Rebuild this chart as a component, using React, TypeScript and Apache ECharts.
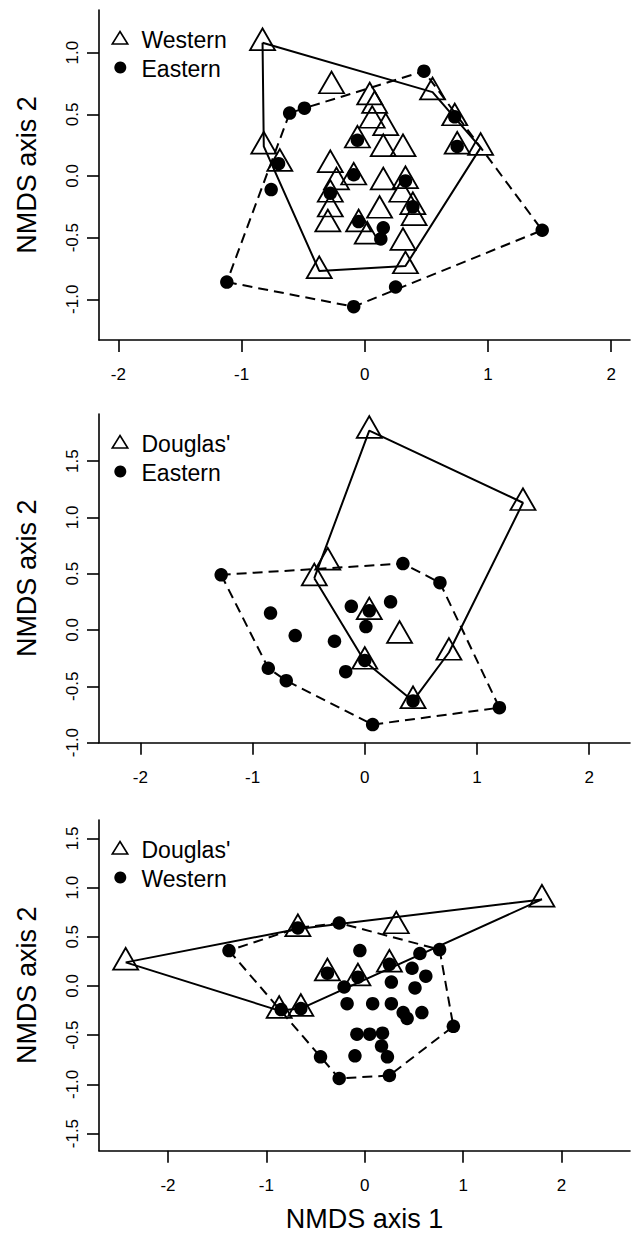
import React, { useEffect, useRef } from "react";
import * as echarts from "echarts";

const FONT = '"Liberation Sans", Arial, Helvetica, sans-serif';

// ---------- data (NMDS scores) ----------
// Panel 1: Western (triangles) vs Eastern (dots)
const p1Western: number[][] = [
  [-0.83, 1.08], [-0.27, 0.73], [0.55, 0.68], [0.04, 0.64], [0.08, 0.57], [0.06, 0.45],
  [0.17, 0.39], [-0.06, 0.29], [0.15, 0.22], [0.31, 0.22], [0.73, 0.47], [0.75, 0.24],
  [0.94, 0.23], [-0.82, 0.24], [-0.69, 0.1], [-0.28, 0.09], [-0.23, -0.05], [-0.09, -0.01],
  [-0.28, -0.15], [-0.28, -0.27], [-0.3, -0.39], [0.15, -0.05], [0.33, -0.04], [0.3, -0.15],
  [0.39, -0.25], [0.4, -0.34], [0.12, -0.28], [-0.05, -0.39], [0.02, -0.49], [0.31, -0.54],
  [0.33, -0.73], [-0.37, -0.77],
];
const p1Eastern: number[][] = [
  [-1.12, -0.86], [-0.61, 0.51], [-0.49, 0.55], [0.48, 0.85], [0.73, 0.48], [0.75, 0.24],
  [-0.06, 0.29], [-0.7, 0.1], [-0.76, -0.11], [-0.09, 0.01], [0.33, -0.04], [-0.28, -0.14],
  [0.39, -0.25], [-0.05, -0.37], [0.15, -0.42], [0.13, -0.51], [1.44, -0.44], [0.25, -0.9],
  [-0.09, -1.06],
];
// Panel 2: Douglas' (triangles) vs Eastern (dots)
const p2Douglas: number[][] = [
  [0.04, 1.77], [1.41, 1.13], [-0.33, 0.6], [-0.45, 0.46], [0.04, 0.16], [0.31, -0.05],
  [0.75, -0.2], [0.0, -0.28], [0.43, -0.63],
];
const p2Eastern: number[][] = [
  [-1.28, 0.49], [0.34, 0.59], [0.67, 0.42], [1.2, -0.69], [0.07, -0.84], [-0.7, -0.45],
  [-0.86, -0.34], [-0.84, 0.15], [-0.62, -0.05], [-0.27, -0.1], [-0.12, 0.21], [0.04, 0.17],
  [0.01, 0.03], [0.23, 0.25], [0.0, -0.27], [-0.17, -0.37], [0.43, -0.63],
];
// Panel 3: Douglas' (triangles) vs Western (dots)
const p3Douglas: number[][] = [
  [-2.43, 0.24], [-0.68, 0.58], [0.32, 0.61], [1.8, 0.88], [-0.38, 0.13], [-0.07, 0.08],
  [0.25, 0.22], [-0.87, -0.25], [-0.65, -0.23],
];
const p3Western: number[][] = [
  [-1.38, 0.36], [-0.68, 0.59], [-0.26, 0.64], [-0.05, 0.36], [-0.38, 0.13], [-0.07, 0.09],
  [0.25, 0.22], [-0.21, -0.01], [-0.85, -0.24], [-0.65, -0.23], [-0.18, -0.18], [0.08, -0.18],
  [0.27, -0.18], [0.27, 0.04], [-0.08, -0.49], [0.05, -0.49], [0.18, -0.48], [0.17, -0.61],
  [0.23, -0.72], [-0.1, -0.71], [-0.45, -0.72], [-0.26, -0.94], [0.25, -0.91], [0.56, 0.33],
  [0.76, 0.37], [0.48, 0.18], [0.62, 0.1], [0.51, -0.02], [0.39, -0.27], [0.43, -0.33],
  [0.58, -0.27], [0.9, -0.41],
];

const xTicks = [-2, -1, 0, 1, 2];
const p1YTicks = [-1, -0.5, 0, 0.5, 1];
const p2YTicks = [-1, -0.5, 0, 0.5, 1, 1.5];
const p3YTicks = [-1.5, -1, -0.5, 0, 0.5, 1, 1.5];

const p1Labels = ["Western", "Eastern"];
const p2Labels = ["Douglas'", "Eastern"];
const p3Labels = ["Douglas'", "Western"];

const yTitle = "NMDS axis 2";
const xTitle = "NMDS axis 1";

// ---------- helpers ----------
function convexHull(pts: number[][]): number[][] {
  const p = pts.map((q) => [q[0], q[1]]).sort((a, b) => a[0] - b[0] || a[1] - b[1]);
  const cross = (o: number[], a: number[], b: number[]) =>
    (a[0] - o[0]) * (b[1] - o[1]) - (a[1] - o[1]) * (b[0] - o[0]);
  const lower: number[][] = [];
  for (const q of p) {
    while (lower.length >= 2 && cross(lower[lower.length - 2], lower[lower.length - 1], q) <= 0) lower.pop();
    lower.push(q);
  }
  const upper: number[][] = [];
  for (let i = p.length - 1; i >= 0; i--) {
    const q = p[i];
    while (upper.length >= 2 && cross(upper[upper.length - 2], upper[upper.length - 1], q) <= 0) upper.pop();
    upper.push(q);
  }
  upper.pop();
  lower.pop();
  const h = lower.concat(upper);
  h.push(h[0]);
  return h;
}

const LEFT = 99;
const RIGHT = 630;

const panels = [
  { top: 10, bottom: 340, xMin: -2.1575, xMax: 2.1526, yMin: -1.33, yMax: 1.346, yTicks: p1YTicks, tri: p1Western, dot: p1Eastern, labels: p1Labels, showX: false },
  { top: 414, bottom: 742.7, xMin: -2.369, xMax: 2.364, yMin: -1.001, yMax: 1.918, yTicks: p2YTicks, tri: p2Douglas, dot: p2Eastern, labels: p2Labels, showX: false },
  { top: 820, bottom: 1150.7, xMin: -2.701, xMax: 2.695, yMin: -1.674, yMax: 1.687, yTicks: p3YTicks, tri: p3Douglas, dot: p3Western, labels: p3Labels, showX: true },
];

export default function App() {
  const ref = useRef<HTMLDivElement>(null);

  useEffect(() => {
    if (!ref.current) return;
    const chart = echarts.init(ref.current, null, { renderer: "svg" });

    const axisLineStyle = { color: "#000", width: 1.6 };
    const grid: any[] = [];
    const xAxis: any[] = [];
    const yAxis: any[] = [];
    const series: any[] = [];
    const graphic: any[] = [];

    panels.forEach((p, i) => {
      grid.push({ left: LEFT, top: p.top, width: RIGHT - LEFT, height: p.bottom - p.top, containLabel: false });
      xAxis.push({
        type: "value",
        gridIndex: i,
        min: p.xMin,
        max: p.xMax,
        splitLine: { show: false },
        axisLine: { show: true, onZero: false, lineStyle: axisLineStyle },
        axisTick: { show: true, customValues: xTicks, length: 12, inside: false, lineStyle: axisLineStyle },
        axisLabel: {
          customValues: xTicks,
          formatter: (v: number) => String(v),
          margin: 26,
          fontSize: 17,
          fontFamily: FONT,
          color: "#000",
        },
        name: p.showX ? xTitle : "",
        nameLocation: "middle",
        nameGap: 55,
        nameTextStyle: { fontSize: 27, fontFamily: FONT, color: "#000" },
      });
      yAxis.push({
        type: "value",
        gridIndex: i,
        min: p.yMin,
        max: p.yMax,
        splitLine: { show: false },
        axisLine: { show: true, onZero: false, lineStyle: axisLineStyle },
        axisTick: { show: true, customValues: p.yTicks, length: 12, inside: false, lineStyle: axisLineStyle },
        axisLabel: {
          customValues: p.yTicks,
          formatter: (v: number) => v.toFixed(1),
          rotate: 90,
          margin: 18,
          fontSize: 17,
          fontFamily: FONT,
          color: "#000",
        },
        name: yTitle,
        nameLocation: "middle",
        nameRotate: 90,
        nameGap: 59,
        nameTextStyle: { fontSize: 27, fontFamily: FONT, color: "#000" },
      });

      series.push({
        type: "line",
        xAxisIndex: i,
        yAxisIndex: i,
        data: convexHull(p.tri),
        symbol: "none",
        silent: true,
        lineStyle: { color: "#000", width: 2 },
        z: 2,
      });
      series.push({
        type: "line",
        xAxisIndex: i,
        yAxisIndex: i,
        data: convexHull(p.dot),
        symbol: "none",
        silent: true,
        lineStyle: { color: "#000", width: 2, type: [10, 6] },
        z: 2,
      });
      series.push({
        type: "scatter",
        xAxisIndex: i,
        yAxisIndex: i,
        data: p.tri,
        symbol: "triangle",
        symbolSize: [25, 21.7],
        symbolOffset: [0, -3.6],
        silent: true,
        itemStyle: { color: "rgba(0,0,0,0)", borderColor: "#000", borderWidth: 1.8, opacity: 1 },
        z: 3,
      });
      series.push({
        type: "scatter",
        xAxisIndex: i,
        yAxisIndex: i,
        data: p.dot,
        symbol: "circle",
        symbolSize: 13.5,
        silent: true,
        itemStyle: { color: "#000", opacity: 1 },
        z: 3,
      });

      // legend keys
      const t = p.top;
      graphic.push({
        type: "polygon",
        shape: { points: [[120, t + 21.5], [127.75, t + 34], [112.25, t + 34]] },
        style: { fill: "none", stroke: "#000", lineWidth: 1.6 },
        silent: true,
      });
      graphic.push({
        type: "circle",
        shape: { cx: 120.3, cy: t + 57.5, r: 6 },
        style: { fill: "#000" },
        silent: true,
      });
      graphic.push({
        type: "text",
        x: 141.5,
        y: t + 30,
        style: { text: p.labels[0], fill: "#000", font: `23px ${FONT}`, verticalAlign: "middle", align: "left" },
        silent: true,
      });
      graphic.push({
        type: "text",
        x: 141.5,
        y: t + 58.5,
        style: { text: p.labels[1], fill: "#000", font: `23px ${FONT}`, verticalAlign: "middle", align: "left" },
        silent: true,
      });
    });

    chart.setOption({
      animation: false,
      backgroundColor: "#fff",
      grid,
      xAxis,
      yAxis,
      series,
      graphic,
    });

    return () => chart.dispose();
  }, []);

  return (
    <div
      ref={ref}
      style={{ position: "absolute", left: 0, top: 0, width: 632, height: 1234, background: "#fff" }}
    />
  );
}
